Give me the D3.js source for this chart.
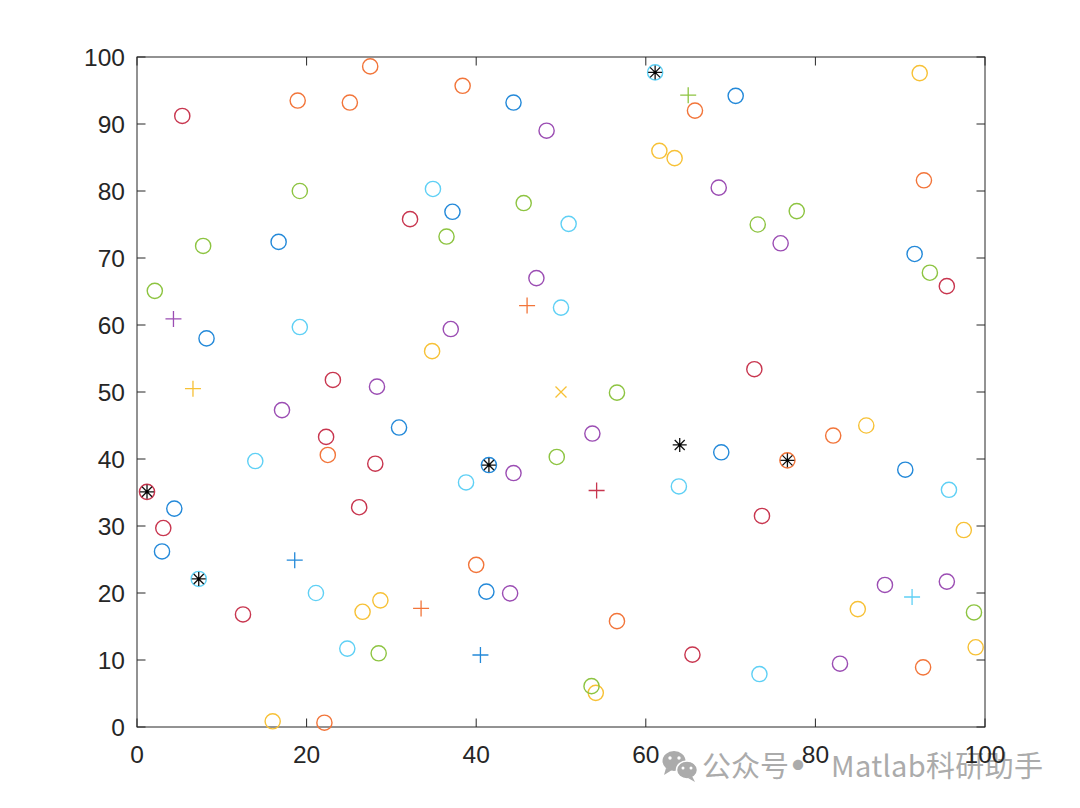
<!DOCTYPE html>
<html>
<head>
<meta charset="utf-8">
<script src="https://cdn.jsdelivr.net/npm/d3@7"></script>
<style>
  html, body { margin: 0; padding: 0; background: #fff; }
  svg { display: block; }
</style>
</head>
<body>
<svg id="chart" width="1080" height="808"></svg>
<script>
// ---- data ----
const xTicks = [0, 20, 40, 60, 80, 100];
const yTicks = [0, 10, 20, 30, 40, 50, 60, 70, 80, 90, 100];

const blueCircles = [[16.7,72.4],[44.4,93.2],[70.6,94.2],[37.2,76.9],[91.7,70.6],[8.2,58.0],[30.9,44.7],[41.5,39.1],[68.9,41.0],[90.6,38.4],[4.4,32.6],[2.95,26.2],[41.2,20.2]];
const orangeCircles = [[18.95,93.5],[25.1,93.2],[27.5,98.6],[38.4,95.7],[65.8,92.0],[92.8,81.6],[22.5,40.6],[76.7,39.8],[82.1,43.5],[40.0,24.2],[56.6,15.8],[92.7,8.9],[22.1,0.64]];
const yellowCircles = [[92.3,97.6],[61.6,86.0],[63.4,84.9],[34.8,56.1],[86.0,45.0],[97.5,29.4],[26.6,17.2],[28.7,18.9],[85.0,17.6],[98.9,11.9],[54.1,5.1],[16.0,0.85]];
const purpleCircles = [[48.3,89.0],[68.6,80.5],[75.9,72.2],[47.1,67.0],[37.0,59.4],[28.3,50.8],[17.1,47.3],[53.7,43.8],[44.4,37.9],[44.0,19.95],[88.2,21.2],[95.5,21.7],[82.9,9.45]];
const greenCircles = [[19.2,80.0],[7.8,71.8],[2.1,65.1],[45.6,78.2],[36.5,73.2],[73.2,75.0],[77.8,77.0],[93.5,67.8],[56.6,49.9],[49.5,40.3],[28.5,11.0],[53.6,6.1],[98.7,17.1]];
const lightBlueCircles = [[61.1,97.7],[34.9,80.3],[50.9,75.1],[50.0,62.6],[19.2,59.7],[13.95,39.7],[38.8,36.5],[63.9,35.9],[95.75,35.4],[7.28,22.1],[21.1,20.0],[24.8,11.7],[73.4,7.9]];
const redCircles = [[5.34,91.2],[32.2,75.8],[95.5,65.8],[23.1,51.8],[72.8,53.4],[22.3,43.3],[28.1,39.3],[1.18,35.1],[26.2,32.8],[3.1,29.7],[73.7,31.5],[12.5,16.8],[65.5,10.8]];

// plus markers: [x, y, colour index]
const plusPoints = [[65.0,94.3,4],[4.3,60.9,3],[46.0,62.9,1],[6.6,50.5,2],[54.2,35.3,6],[18.6,24.9,0],[33.5,17.7,1],[40.5,10.75,0],[91.4,19.4,5]];
const crossPoints = [[50.0,50.0,2]];
const starPoints = [[61.1,97.7],[41.5,39.1],[76.7,39.8],[1.18,35.1],[7.28,22.1],[64.0,42.1]];

const palette = ["#2389d9", "#f2753a", "#f7c136", "#9b4db3", "#8dc441", "#5fd0f5", "#c8364f"];
const circleSeries = [blueCircles, orangeCircles, yellowCircles, purpleCircles, greenCircles, lightBlueCircles, redCircles];

(function () {
// ---- layout ----
const svg = d3.select("#chart");
const pLeft = 137, pRight = 985, pTop = 57, pBottom = 727;
const x = d3.scaleLinear().domain([0, 100]).range([pLeft, pRight]);
const y = d3.scaleLinear().domain([0, 100]).range([pBottom, pTop]);
const axisColor = "#262626";
const font = "'Liberation Sans', Arial, Helvetica, sans-serif";

// ---- watermark (behind) ----
const wm = svg.append("g").attr("fill", "#ababab");
wm.append("ellipse").attr("cx", 674).attr("cy", 761).attr("rx", 11.5).attr("ry", 10);
wm.append("path").attr("d", "M666,768 L664,775 L672,770 Z");
wm.append("ellipse").attr("cx", 687).attr("cy", 770).attr("rx", 10.5).attr("ry", 9).attr("stroke", "#fff").attr("stroke-width", 1.5);
wm.append("path").attr("d", "M692,776 L695,782 L688,778 Z");
[[670,758],[679,758]].forEach(p => wm.append("circle").attr("cx", p[0]).attr("cy", p[1]).attr("r", 1.7).attr("fill", "#fff"));
[[683,768],[691,768]].forEach(p => wm.append("circle").attr("cx", p[0]).attr("cy", p[1]).attr("r", 1.5).attr("fill", "#fff"));
const wmFont = "'Noto Sans CJK SC', 'Noto Sans', sans-serif";
wm.append("text").attr("x", 702).attr("y", 777).attr("font-family", wmFont).attr("font-size", 29).text("公众号");
wm.append("text").attr("x", 798).attr("y", 780).attr("text-anchor", "middle").attr("font-family", wmFont)
  .attr("font-size", 40).attr("font-weight", "bold").text("·");
wm.append("text").attr("x", 831).attr("y", 777).attr("font-family", wmFont).attr("font-size", 29)
  .attr("textLength", 212).attr("lengthAdjust", "spacing").text("Matlab科研助手");

// ---- axes box ----
const g = svg.append("g");
g.append("rect").attr("x", pLeft).attr("y", pTop).attr("width", pRight - pLeft).attr("height", pBottom - pTop)
  .attr("fill", "none").attr("stroke", axisColor).attr("stroke-width", 1);

const tickLen = 8.5;
xTicks.forEach(t => {
  g.append("line").attr("x1", x(t)).attr("x2", x(t)).attr("y1", pBottom).attr("y2", pBottom - tickLen).attr("stroke", axisColor);
  g.append("line").attr("x1", x(t)).attr("x2", x(t)).attr("y1", pTop).attr("y2", pTop + tickLen).attr("stroke", axisColor);
  g.append("text").attr("x", x(t)).attr("y", pBottom + 36)
    .attr("text-anchor", "middle").attr("font-family", font).attr("font-size", 24.5).attr("fill", axisColor).text(t);
});
yTicks.forEach(t => {
  g.append("line").attr("x1", pLeft).attr("x2", pLeft + tickLen).attr("y1", y(t)).attr("y2", y(t)).attr("stroke", axisColor);
  g.append("line").attr("x1", pRight).attr("x2", pRight - tickLen).attr("y1", y(t)).attr("y2", y(t)).attr("stroke", axisColor);
  g.append("text").attr("x", pLeft - 12).attr("y", y(t) + 9)
    .attr("text-anchor", "end").attr("font-family", font).attr("font-size", 24.5).attr("fill", axisColor).text(t);
});

// ---- marks ----
const marks = svg.append("g");
circleSeries.forEach((series, i) => {
  marks.selectAll(null).data(series).enter().append("circle")
    .attr("cx", d => x(d[0])).attr("cy", d => y(d[1])).attr("r", 7.6)
    .attr("fill", "none").attr("stroke", palette[i]).attr("stroke-width", 1.4);
});

const pl = 8;
plusPoints.forEach(d => {
  const cx = x(d[0]), cy = y(d[1]);
  marks.append("path").attr("d", `M${cx - pl},${cy}H${cx + pl}M${cx},${cy - pl}V${cy + pl}`)
    .attr("stroke", palette[d[2]]).attr("stroke-width", 1.3).attr("fill", "none");
});
const cl = 5.5;
crossPoints.forEach(d => {
  const cx = x(d[0]), cy = y(d[1]);
  marks.append("path").attr("d", `M${cx - cl},${cy - cl}L${cx + cl},${cy + cl}M${cx - cl},${cy + cl}L${cx + cl},${cy - cl}`)
    .attr("stroke", palette[d[2]]).attr("stroke-width", 1.3).attr("fill", "none");
});
const sr = 7, sd = 5;
starPoints.forEach(d => {
  const cx = x(d[0]), cy = y(d[1]);
  marks.append("path")
    .attr("d", `M${cx - sr},${cy}H${cx + sr}M${cx},${cy - sr}V${cy + sr}M${cx - sd},${cy - sd}L${cx + sd},${cy + sd}M${cx - sd},${cy + sd}L${cx + sd},${cy - sd}`)
    .attr("stroke", "#111").attr("stroke-width", 1.3).attr("fill", "none");
  marks.append("circle").attr("cx", cx).attr("cy", cy).attr("r", 1.5).attr("fill", "#000");
});
})();
</script>
</body>
</html>
